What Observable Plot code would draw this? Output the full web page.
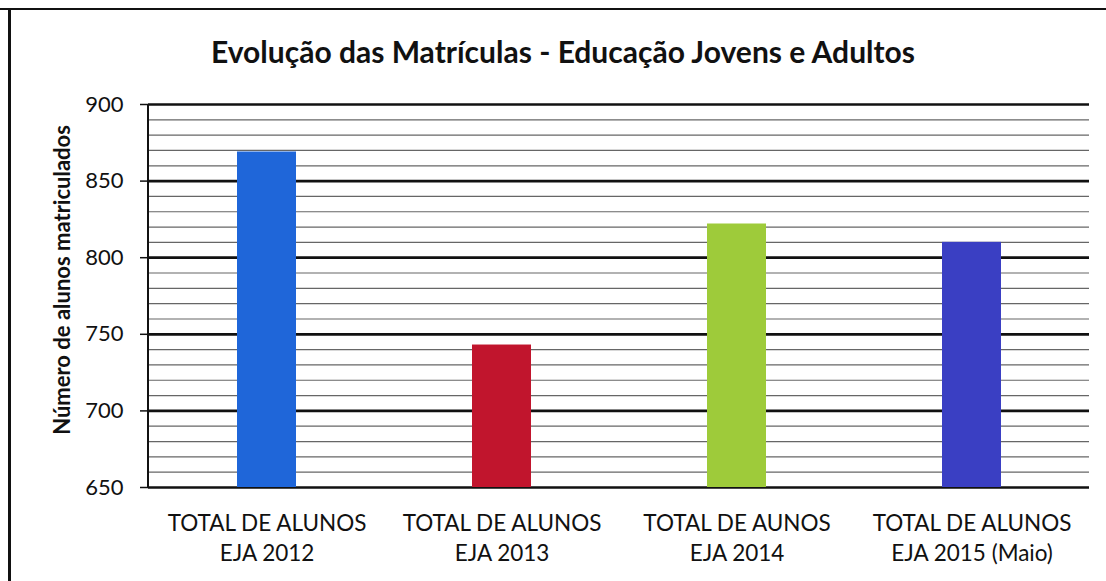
<!DOCTYPE html>
<html>
<head>
<meta charset="utf-8">
<script src="https://cdn.jsdelivr.net/npm/d3@7"></script>
<script src="https://cdn.jsdelivr.net/npm/@observablehq/plot@0.6"></script>
<style>
  html, body { margin: 0; padding: 0; background: #fff; }
  #wrap { position: relative; width: 1106px; height: 581px; overflow: hidden; }
  #frameTop { position: absolute; left: 0; top: 8px; width: 1106px; height: 2px; background: #111; }
  #frameLeft { position: absolute; left: 8px; top: 9px; width: 3px; height: 572px; background: #111; }
  #title { position: absolute; left: 0; width: 1126px; top: 33px; text-align: center;
           font-family: Lato, "Open Sans", sans-serif; font-weight: bold; font-size: 30px; color: #111; }
  #chart { position: absolute; left: 0; top: 0; }
</style>
</head>
<body>
<div id="wrap">
  <div id="chart"></div>
  <div id="frameTop"></div>
  <div id="frameLeft"></div>
  <div id="title"></div>
</div>
<script>
// Data
const categories = ["2012", "2013", "2014", "2015"];
const categoryLabels = [
  "TOTAL DE ALUNOS\nEJA 2012",
  "TOTAL DE ALUNOS\nEJA 2013",
  "TOTAL DE AUNOS\nEJA 2014",
  "TOTAL DE ALUNOS\nEJA 2015 (Maio)"
];
const values = [869, 743, 822, 810];
const barColors = ["#1f66d9", "#c1152d", "#9ecb3a", "#3a3fc3"];
const yMajorTicks = [650, 700, 750, 800, 850, 900];
const yMinorTicks = d3.range(650, 901, 10).filter(v => v % 50 !== 0);
const yLabel = "Número de alunos matriculados";
const chartTitle = "Evolução das Matrículas - Educação Jovens e Adultos";

document.getElementById("title").textContent = chartTitle;

const rows = categories.map((c, i) => ({cat: c, label: categoryLabels[i], value: values[i], color: barColors[i]}));

const font = "Lato, 'Open Sans', sans-serif";

// left axis line drawn at the frame's left edge
const leftAxisLine = (index, scales, values, dims) => {
  const line = document.createElementNS("http://www.w3.org/2000/svg", "line");
  line.setAttribute("x1", dims.marginLeft);
  line.setAttribute("x2", dims.marginLeft);
  line.setAttribute("y1", scales.y(900));
  line.setAttribute("y2", scales.y(650));
  line.setAttribute("stroke", "#111");
  line.setAttribute("stroke-width", 2);
  return line;
};

const plot = Plot.plot({
  width: 1106,
  height: 581,
  marginLeft: 148,
  marginRight: 17,
  marginTop: 104,
  marginBottom: 94,
  style: {fontFamily: font, color: "#111", background: "transparent"},
  x: {domain: categories, paddingInner: 0.75, paddingOuter: 0.375, axis: null},
  y: {domain: [650, 900], axis: null},
  marks: [
    Plot.ruleY(yMinorTicks, {stroke: "#666", strokeWidth: 1.2}),
    Plot.ruleY(yMajorTicks, {stroke: "#111", strokeWidth: 2.7}),
    leftAxisLine,
    Plot.barY(rows, {x: "cat", y1: 650, y2: "value", fill: "color"}),
    Plot.axisY({ticks: yMajorTicks, tickSize: 8, tickPadding: 17, fontSize: 22, stroke: "#111", strokeWidth: 1.5, label: null}),
    Plot.text(rows, {x: "cat", frameAnchor: "bottom", text: "label", lineAnchor: "top", dy: 22, fontSize: 22.5, lineHeight: 1.33, fill: "#111"}),
    Plot.text([yLabel], {frameAnchor: "left", textAnchor: "middle", rotate: -90, dx: -86, dy: -16, fontSize: 22, fontWeight: "bold", fill: "#111"})
  ]
});
document.getElementById("chart").appendChild(plot);
</script>
</body>
</html>
